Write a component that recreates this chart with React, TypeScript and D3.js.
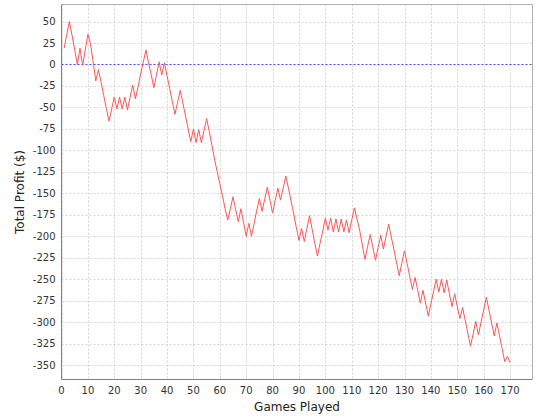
import React from "react";
import * as d3 from "d3";

const games: number[] = d3.range(1, 171);
const profit: number[] = [
  19, 35, 50, 34, 17, 0, 19, -1, 17, 35,
  24, 3, -19, -6, -21, -36, -51, -66, -52, -38,
  -52, -38, -52, -38, -53, -38, -24, -40, -26, -11,
  3, 17, 2, -12, -27, -12, 3, -12, 2, -13,
  -28, -43, -58, -44, -30, -45, -60, -75, -90, -75,
  -91, -76, -91, -77, -63, -78, -94, -110, -125, -139,
  -153, -168, -181, -168, -154, -169, -183, -168, -184, -200,
  -185, -200, -185, -170, -156, -171, -157, -143, -158, -173,
  -158, -144, -158, -144, -130, -144, -159, -174, -190, -205,
  -191, -206, -191, -176, -192, -208, -223, -208, -194, -179,
  -193, -179, -195, -180, -195, -180, -195, -181, -196, -181,
  -167, -180, -193, -210, -227, -212, -198, -213, -228, -213,
  -199, -215, -200, -186, -201, -216, -231, -246, -231, -217,
  -232, -247, -262, -248, -263, -278, -263, -278, -293, -279,
  -264, -250, -265, -250, -266, -251, -267, -282, -267, -282,
  -296, -283, -298, -313, -328, -314, -299, -315, -300, -286,
  -271, -286, -301, -316, -301, -316, -331, -346, -340, -347,
];
const xTicks: number[] = d3.range(0, 171, 10);
const yTicks: number[] = d3.range(-350, 51, 25);

const W = 540;
const H = 420;
const L = 61.5;
const R = 532.5;
const T = 4.5;
const B = 379.5;
const FONT = "'DejaVu Sans', sans-serif";

export default function App() {
  const xMax = d3.max(games)! * 1.05;
  const [yMin, yMax] = d3.extent(profit) as [number, number];
  const pad = (yMax - yMin) * 0.05;
  const x = d3.scaleLinear().domain([0, xMax]).range([L, R]);
  const y = d3.scaleLinear().domain([yMin - pad, yMax + pad]).range([B, T]);
  const line = d3
    .line<number>()
    .x((_, i) => x(games[i]))
    .y((d) => y(d));

  return (
    <svg width={W} height={H} style={{ position: "absolute", left: 0, top: 0, background: "#fff" }}>
      <rect x={L} y={T} width={R - L} height={B - T} fill="#fff" />
      {xTicks.map((t) => (
        <line key={"gx" + t} x1={Math.round(x(t)) + 0.5} x2={Math.round(x(t)) + 0.5} y1={T} y2={B}
          stroke="#d4d4d4" strokeWidth={1} strokeDasharray="2,2" />
      ))}
      {yTicks.map((t) => (
        <line key={"gy" + t} x1={L} x2={R} y1={Math.round(y(t)) + 0.5} y2={Math.round(y(t)) + 0.5}
          stroke="#d4d4d4" strokeWidth={1} strokeDasharray="2,2" />
      ))}
      <line x1={L} x2={R} y1={Math.round(y(0)) + 0.5} y2={Math.round(y(0)) + 0.5}
        stroke="#4d4dff" strokeWidth={1} strokeDasharray="2,2" />
      <path d={line(profit) || ""} fill="none" stroke="#ff5555" strokeWidth={1} strokeLinejoin="miter" />
      <line x1={L} x2={R} y1={T} y2={T} stroke="#b0b0b0" />
      <line x1={R} x2={R} y1={T} y2={B} stroke="#b0b0b0" />
      <line x1={L} x2={L} y1={T} y2={B} stroke="#808080" />
      <line x1={L} x2={R} y1={B} y2={B} stroke="#808080" />
      {xTicks.map((t) => (
        <text key={"xt" + t} x={x(t)} y={B + 14} fontSize={10} fontFamily={FONT} textAnchor="middle" fill="#333">{t}</text>
      ))}
      {yTicks.map((t) => (
        <text key={"yt" + t} x={L - 6} y={y(t) + 3.5} fontSize={10} fontFamily={FONT} textAnchor="end" fill="#333">{t}</text>
      ))}
      <text x={(L + R) / 2} y={411} fontSize={12} fontFamily={FONT} textAnchor="middle" fill="#222">Games Played</text>
      <text transform={`translate(24,${(T + B) / 2}) rotate(-90)`} fontSize={12} fontFamily={FONT}
        textAnchor="middle" fill="#222">Total Profit ($)</text>
    </svg>
  );
}
